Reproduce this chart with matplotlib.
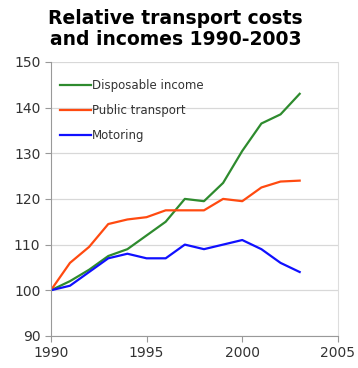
import matplotlib.pyplot as plt

years = [1990, 1991, 1992, 1993, 1994, 1995, 1996, 1997, 1998, 1999, 2000, 2001, 2002, 2003]
disposable_income = [100, 102, 104.5, 107.5, 109, 112, 115, 120, 119.5, 123.5, 130.5, 136.5, 138.5, 143]
public_transport = [100, 106, 109.5, 114.5, 115.5, 116, 117.5, 117.5, 117.5, 120, 119.5, 122.5, 123.8, 124]
motoring = [100, 101, 104, 107, 108, 107, 107, 110, 109, 110, 111, 109, 106, 104]

fig = plt.figure(figsize=(3.58, 3.68), dpi=100)
ax = fig.add_axes([0.142, 0.087, 0.802, 0.745])

ax.plot(years, disposable_income, color="#2e8b2e", lw=1.6, label="Disposable income")
ax.plot(years, public_transport, color="#ff4a10", lw=1.6, label="Public transport")
ax.plot(years, motoring, color="#1010ff", lw=1.6, label="Motoring")

ax.set_xlim(1990, 2005)
ax.set_ylim(90, 150)
ax.set_xticks([1990, 1995, 2000, 2005])
ax.set_yticks(range(90, 151, 10))
ax.grid(axis="y", color="#d8d8d8", lw=0.9)
ax.set_axisbelow(True)
for s in ["left", "bottom"]:
    ax.spines[s].set_color("#999999")
ax.spines["top"].set_visible(False)
ax.spines["right"].set_color("#dddddd")
ax.tick_params(colors="#999999", labelcolor="#333333", labelsize=10, length=4)

ax.legend(loc="upper left", bbox_to_anchor=(0.0, 0.97), frameon=False, fontsize=8.5,
          handlelength=2.6, handletextpad=0.1, labelspacing=1.0, borderaxespad=0.4,
          labelcolor="#333333")

fig.text(0.49, 0.975, "Relative transport costs\nand incomes 1990-2003", ha="center",
         va="top", fontsize=13.5, fontweight="bold", linespacing=1.1)

fig.savefig("out.png", dpi=100)
